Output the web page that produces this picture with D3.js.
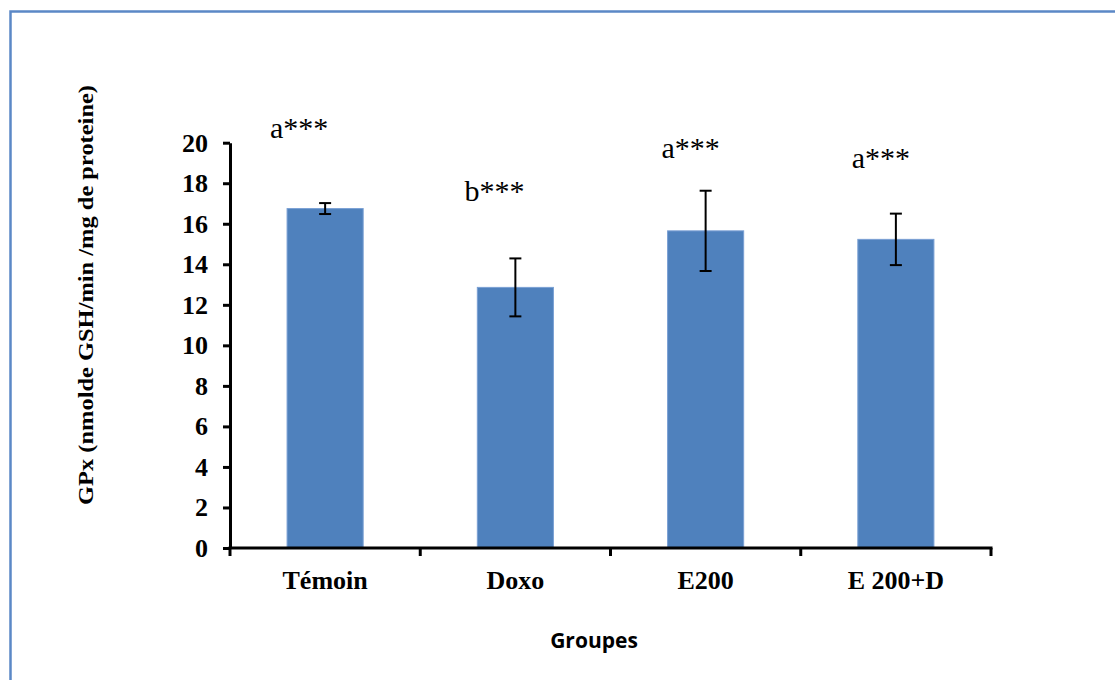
<!DOCTYPE html>
<html>
<head>
<meta charset="utf-8">
<script src="https://cdn.jsdelivr.net/npm/d3@7"></script>
<style>
    body { margin: 0; background: #fff; }
    svg { display: block; }
</style>
</head>
<body>
<svg id="chart" width="1115" height="680"></svg>
<script>
// data
const groups = ['Témoin', 'Doxo', 'E200', 'E 200+D'];
const means = [16.75, 12.86, 15.65, 15.23];
const errors = [0.27, 1.43, 1.98, 1.27];
const letters = ['a***', 'b***', 'a***', 'a***'];
const letterY = [20.23, 17.13, 19.25, 18.76];
const yTicks = [0, 2, 4, 6, 8, 10, 12, 14, 16, 18, 20];

const svg = d3.select('#chart');

const margin = { left: 230, right: 124, top: 142.7, bottom: 132 };
const W = 1115, H = 680;

// outer frame
svg.append('rect')
    .attr('x', 10.5).attr('y', 11.5)
    .attr('width', 1130).attr('height', 720)
    .attr('fill', 'none')
    .attr('stroke', '#5b88c6')
    .attr('stroke-width', 2.5);

const x = d3.scaleBand()
    .domain(groups)
    .range([margin.left, W - margin.right])
    .paddingInner(0.6)
    .paddingOuter(0.3);

const y = d3.scaleLinear()
    .domain([0, 20])
    .range([H - margin.bottom, margin.top]);

// bars
svg.append('g')
    .selectAll('rect')
    .data(groups)
    .join('rect')
    .attr('x', d => x(d))
    .attr('y', (d, i) => y(means[i]))
    .attr('width', x.bandwidth())
    .attr('height', (d, i) => y(0) - y(means[i]))
    .attr('fill', '#4f81bd')
    .attr('stroke', '#7aa0d4')
    .attr('stroke-width', 1);

// error bars
const eb = svg.append('g')
    .attr('stroke', '#000')
    .attr('stroke-width', 2);

groups.forEach((g, i) => {
    let cx = x(g) + x.bandwidth() / 2;
    let top = y(means[i] + errors[i]);
    let bot = y(means[i] - errors[i]);
    eb.append('line').attr('x1', cx).attr('x2', cx).attr('y1', top).attr('y2', bot);
    eb.append('line').attr('x1', cx - 6).attr('x2', cx + 6).attr('y1', top).attr('y2', top);
    eb.append('line').attr('x1', cx - 6).attr('x2', cx + 6).attr('y1', bot).attr('y2', bot);
});

// significance letters
const letterDx = [-26, -21, -15, -15];
svg.append('g')
    .selectAll('text')
    .data(letters)
    .join('text')
    .attr('x', (d, i) => x(groups[i]) + x.bandwidth() / 2 + letterDx[i])
    .attr('y', (d, i) => y(letterY[i]))
    .attr('text-anchor', 'middle')
    .attr('font-family', '"Liberation Serif", "Times New Roman", serif')
    .attr('font-size', 30)
    .attr('fill', '#000')
    .text(d => d);

// y axis
const yAxis = svg.append('g')
    .attr('transform', `translate(${margin.left},0)`)
    .call(d3.axisLeft(y).tickValues(yTicks).tickSize(7).tickPadding(15).tickSizeOuter(0));

yAxis.select('.domain').attr('stroke-width', 3).attr('stroke', '#000');
yAxis.selectAll('.tick line').attr('stroke-width', 3).attr('stroke', '#000');
yAxis.selectAll('.tick text')
    .attr('font-family', '"Liberation Serif", "Times New Roman", serif')
    .attr('font-weight', 'bold')
    .attr('font-size', 26)
    .attr('fill', '#000');

// x axis: line plus ticks between groups
const xAxis = svg.append('g')
    .attr('transform', `translate(0,${y(0)})`)
    .call(d3.axisBottom(x).tickSize(0).tickPadding(18));

xAxis.select('.domain')
    .attr('d', `M${margin.left - 1.5},0H${W - margin.right + 1.5}`)
    .attr('stroke-width', 3).attr('stroke', '#000');
xAxis.selectAll('.tick text')
    .attr('font-family', '"Liberation Serif", "Times New Roman", serif')
    .attr('font-weight', 'bold')
    .attr('font-size', 26)
    .attr('fill', '#000')
    .attr('dy', '0.88em');

const bounds = d3.range(groups.length + 1).map(i => margin.left + i * (W - margin.left - margin.right) / groups.length);
xAxis.selectAll('.sep')
    .data(bounds)
    .join('line')
    .attr('class', 'sep')
    .attr('x1', d => d).attr('x2', d => d)
    .attr('y1', 0).attr('y2', 8)
    .attr('stroke', '#000')
    .attr('stroke-width', 3);

// axis titles
svg.append('text')
    .attr('transform', 'translate(93,295) rotate(-90)')
    .attr('text-anchor', 'middle')
    .attr('font-family', '"Liberation Serif", "Times New Roman", serif')
    .attr('font-weight', 'bold')
    .attr('font-size', 22)
    .attr('textLength', 420)
    .attr('lengthAdjust', 'spacingAndGlyphs')
    .attr('fill', '#000')
    .text('GPx (nmolde GSH/min /mg de proteine)');

svg.append('text')
    .attr('x', 594)
    .attr('y', 648)
    .attr('text-anchor', 'middle')
    .attr('font-family', '"Open Sans", "DejaVu Sans", sans-serif')
    .attr('font-weight', 'bold')
    .attr('font-size', 21)
    .attr('fill', '#000')
    .text('Groupes');
</script>
</body>
</html>
